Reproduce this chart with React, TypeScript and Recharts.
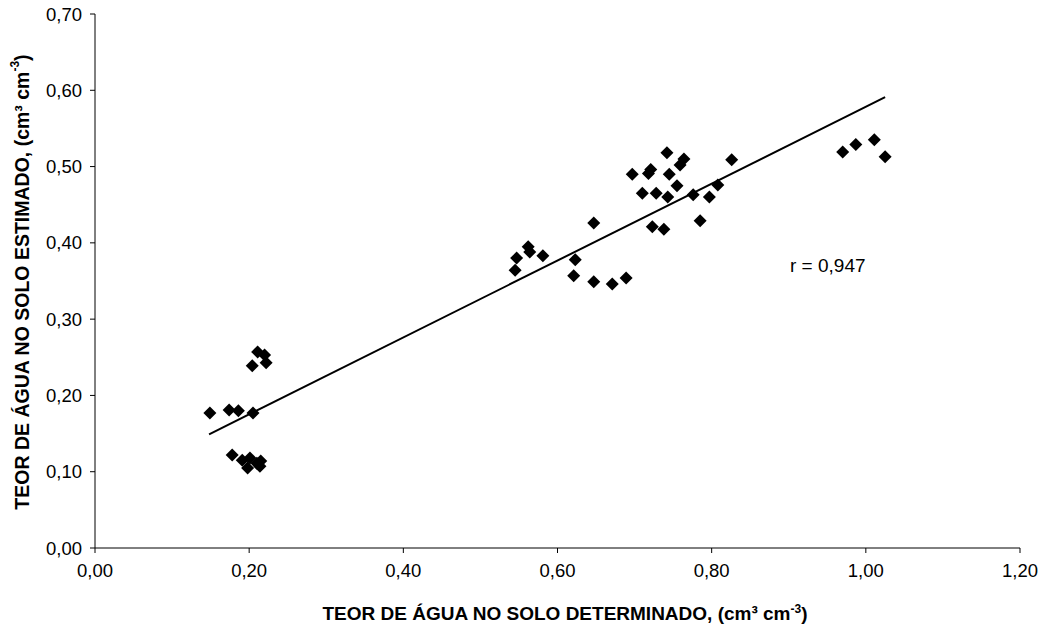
import React from 'react';
import { ScatterChart, Scatter, XAxis, YAxis, Label } from 'recharts';

// teor de água determinado (x) e estimado (y)
const determinado = [
  0.149, 0.174, 0.186, 0.205, 0.211, 0.22, 0.222, 0.204,
  0.178, 0.191, 0.201, 0.198, 0.21, 0.215, 0.214,
  0.547, 0.545, 0.562, 0.564, 0.581, 0.623, 0.621, 0.647, 0.671, 0.689, 0.647,
  0.723, 0.738, 0.785, 0.826, 0.776, 0.797, 0.808,
  0.697, 0.742, 0.764, 0.759, 0.721, 0.718, 0.745, 0.755, 0.71, 0.728, 0.743,
  0.97, 0.987, 1.011, 1.025,
];
const estimado = [
  0.177, 0.181, 0.18, 0.177, 0.257, 0.253, 0.243, 0.239,
  0.122, 0.115, 0.118, 0.105, 0.111, 0.114, 0.107,
  0.38, 0.364, 0.395, 0.388, 0.383, 0.378, 0.357, 0.349, 0.346, 0.354, 0.426,
  0.421, 0.418, 0.429, 0.509, 0.463, 0.46, 0.476,
  0.49, 0.518, 0.51, 0.502, 0.496, 0.491, 0.49, 0.475, 0.465, 0.465, 0.46,
  0.519, 0.529, 0.535, 0.513,
];

// reta de ajuste
const retaX = [0.148, 1.025];
const retaY = [0.149, 0.591];

const xTicks = [0, 0.2, 0.4, 0.6, 0.8, 1.0, 1.2];
const yTicks = [0, 0.1, 0.2, 0.3, 0.4, 0.5, 0.6, 0.7];

const pontos = determinado.map((x, i) => ({ x, y: estimado[i] }));
const reta = retaX.map((x, i) => ({ x, y: retaY[i] }));

const FONT = '"Liberation Sans", Arial, sans-serif';
const fmt = (v: number) => v.toFixed(2).replace('.', ',');

const Diamond = (props: any) => {
  const { cx, cy } = props;
  const r = 6.5;
  return (
    <polygon
      points={`${cx},${cy - r} ${cx + r},${cy} ${cx},${cy + r} ${cx - r},${cy}`}
      fill="#000"
    />
  );
};

const Nada = () => <g />;

const YTitle = () => {
  const cx = 22;
  const cy = 282;
  return (
    <text
      x={cx}
      y={cy}
      transform={`rotate(-90 ${cx} ${cy})`}
      textAnchor="middle"
      dominantBaseline="central"
      fontFamily={FONT}
      fontWeight="bold"
      fontSize={19.5}
      fill="#000"
    >
      TEOR DE ÁGUA NO SOLO ESTIMADO, (cm³ cm
      <tspan baselineShift="super" fontSize={12}>-3</tspan>
      <tspan>)</tspan>
    </text>
  );
};

const XTitle = () => (
  <text
    x={565}
    y={620}
    textAnchor="middle"
    fontFamily={FONT}
    fontWeight="bold"
    fontSize={19}
    fill="#000"
  >
    TEOR DE ÁGUA NO SOLO DETERMINADO, (cm³ cm
    <tspan baselineShift="super" fontSize={12}>-3</tspan>
    <tspan>)</tspan>
  </text>
);

export default function App() {
  return (
    <div style={{ position: 'absolute', left: 0, top: 0, width: 1051, height: 634, background: '#fff' }}>
      <ScatterChart width={1051} height={634} margin={{ top: 14, right: 31, bottom: 0, left: 0 }}>
        <XAxis
          type="number"
          dataKey="x"
          domain={[0, 1.2]}
          ticks={xTicks}
          tickFormatter={fmt}
          height={86}
          tickSize={5}
          tickMargin={11}
          axisLine={{ stroke: '#000' }}
          tickLine={{ stroke: '#000' }}
          tick={{ fill: '#000', fontFamily: FONT, fontSize: 18.5 }}
          interval={0}
        >
          <Label content={<XTitle />} />
        </XAxis>
        <YAxis
          type="number"
          dataKey="y"
          domain={[0, 0.7]}
          ticks={yTicks}
          tickFormatter={fmt}
          width={95}
          tickSize={5}
          tickMargin={8}
          axisLine={{ stroke: '#000' }}
          tickLine={{ stroke: '#000' }}
          tick={{ fill: '#000', fontFamily: FONT, fontSize: 18.5 }}
          interval={0}
        >
          <Label content={<YTitle />} />
        </YAxis>
        <Scatter
          data={reta}
          line={{ stroke: '#000', strokeWidth: 2 }}
          shape={<Nada />}
          isAnimationActive={false}
        />
        <Scatter data={pontos} shape={<Diamond />} isAnimationActive={false} />
      </ScatterChart>
      <div
        style={{
          position: 'absolute',
          left: 790,
          top: 255,
          fontFamily: FONT,
          fontSize: 19,
          color: '#000',
          whiteSpace: 'nowrap',
        }}
      >
        r = 0,947
      </div>
    </div>
  );
}
